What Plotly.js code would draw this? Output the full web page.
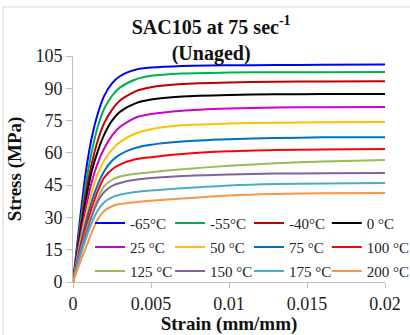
<!DOCTYPE html>
<html>
<head>
<meta charset="utf-8">
<script src="https://cdn.plot.ly/plotly-3.0.1.min.js"></script>
<style>html,body{margin:0;padding:0;background:#fff;}#chart{width:410px;height:335px;}</style>
</head>
<body>
<div id="chart"></div>
<script>
var strain = [0, 0.0004, 0.0008, 0.0012, 0.0016, 0.002, 0.0025, 0.003, 0.004, 0.005, 0.007, 0.01, 0.013, 0.016, 0.02];

var tempLabels = ["-65°C", "-55°C", "-40°C", "0 °C", "25 °C", "50 °C", "75 °C", "100 °C", "125 °C", "150 °C", "175 °C", "200 °C"];
var colors = ["#0000FF", "#00B050", "#C00000", "#000000", "#CC00CC", "#FFC000", "#0070C0", "#FF0000", "#9BBB59", "#8064A2", "#4BACC6", "#F79646"];

var sM65 = [0, 26, 50, 67, 78.5, 86.5, 92.3, 95.6, 98.6, 99.6, 100.4, 100.7, 100.8, 100.9, 101];
var sM55 = [0, 23, 44.5, 60.5, 72.5, 80.5, 86.5, 90.3, 94.1, 95.8, 96.9, 97.3, 97.5, 97.5, 97.6];
var sM40 = [0, 21, 40.5, 55, 66, 73.8, 80, 84.2, 88.6, 90.5, 92, 92.7, 93, 93.2, 93.3];
var s0   = [0, 19.5, 37, 51.5, 61, 68.5, 75, 79, 83, 84.8, 86.2, 86.9, 87.2, 87.3, 87.3];
var s25  = [0, 18, 33.5, 46.5, 55.5, 62, 68, 72, 76.3, 78, 79.6, 80.6, 81.1, 81.2, 81.3];
var s50  = [0, 16, 30, 41.5, 50.5, 56.5, 61.5, 65, 69, 71, 72.8, 73.6, 74, 74.2, 74.3];
var s75  = [0, 14.5, 27, 37.5, 45.5, 51.5, 56.3, 59.2, 62.3, 63.8, 65.3, 66.3, 66.9, 67.2, 67.3];
var s100 = [0, 13, 24.5, 34.5, 42.5, 48.5, 52.3, 54.5, 57, 58, 59.5, 60.7, 61.3, 61.6, 61.8];
var s125 = [0, 12, 22.5, 31.5, 39, 44.5, 47.5, 49, 50.3, 51, 52.4, 54, 55.2, 56, 56.7];
var s150 = [0, 11.5, 21.5, 30.5, 37.5, 41.8, 44.6, 46, 47.5, 48.3, 49.3, 50, 50.4, 50.5, 50.6];
var s175 = [0, 10.5, 19.5, 27.5, 33.3, 37, 39.3, 40.5, 41.8, 42.5, 43.5, 44.8, 45.5, 45.8, 46];
var s200 = [0, 8, 15.5, 23, 29.3, 33, 35.2, 36.2, 37.1, 37.7, 38.8, 40.2, 40.9, 41.2, 41.3];

var series = [sM65, sM55, sM40, s0, s25, s50, s75, s100, s125, s150, s175, s200];
var legendIds = ["legend", "legend2", "legend3", "legend4"];

var serif = "Liberation Serif, Times New Roman, serif";

var traces = series.map(function (ys, i) {
  return {
    type: "scatter",
    mode: "lines",
    x: strain,
    y: ys,
    name: tempLabels[i],
    legendgroup: "g" + i,
    line: {color: colors[i], width: 2, shape: "spline", smoothing: 0.7},
    legend: legendIds[i % 4]
  };
});

function legendAt(x) {
  return {
    x: x, xanchor: "left", y: 0.333, yanchor: "top",
    orientation: "v", bgcolor: "rgba(0,0,0,0)", borderwidth: 0,
    font: {family: serif, size: 15, color: "#222"},
    traceorder: "grouped",
    tracegroupgap: 1.5
  };
}

var axisColor = "#BFBFBF";

var layout = {
  width: 410, height: 335,
  margin: {l: 73, r: 25, t: 56, b: 53, autoexpand: false},
  paper_bgcolor: "#ffffff",
  plot_bgcolor: "#ffffff",
  font: {family: serif, color: "#222"},
  title: {
    text: "<b>SAC105 at 75 sec<sup>-1</sup><br>(Unaged)</b>",
    font: {family: serif, size: 20, color: "#111"},
    x: 0.515, xanchor: "center", y: 0.90, yanchor: "top"
  },
  xaxis: {
    range: [0, 0.02], dtick: 0.005, tick0: 0,
    showgrid: false, zeroline: false,
    showline: true, linecolor: axisColor, linewidth: 1,
    ticks: "outside", ticklen: 5, tickcolor: axisColor,
    tickfont: {family: serif, size: 18, color: "#222"},
    title: {text: "<b>Strain (mm/mm)</b>", font: {family: serif, size: 19, color: "#111"}, standoff: 4}
  },
  yaxis: {
    range: [0, 105], dtick: 15, tick0: 0,
    showgrid: false, zeroline: false,
    showline: true, linecolor: axisColor, linewidth: 1,
    ticks: "outside", ticklen: 6, tickcolor: axisColor,
    tickfont: {family: serif, size: 18, color: "#222"},
    title: {text: "<b>Stress (MPa)</b>", font: {family: serif, size: 19, color: "#111"}, standoff: 8}
  },
  legend: legendAt(0.0545),
  legend2: legendAt(0.311),
  legend3: legendAt(0.564),
  legend4: legendAt(0.8135),
  shapes: [
    {type: "line", xref: "paper", yref: "paper", x0: -0.224, x1: 1.2, y0: 1.217, y1: 1.217, line: {color: "#D9D9D9", width: 1}, layer: "below"},
    {type: "line", xref: "paper", yref: "paper", x0: -0.224, x1: -0.224, y0: 1.217, y1: -0.3, line: {color: "#D9D9D9", width: 1}, layer: "below"}
  ]
};

Plotly.newPlot("chart", traces, layout, {displayModeBar: false, staticPlot: true});
</script>
</body>
</html>
